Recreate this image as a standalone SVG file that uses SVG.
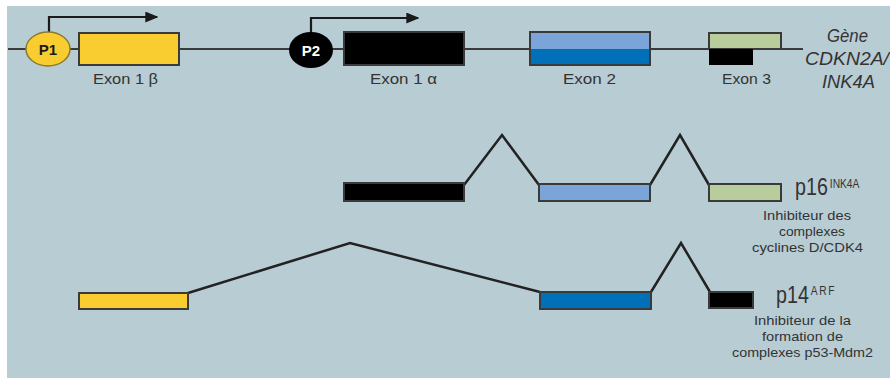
<svg xmlns="http://www.w3.org/2000/svg" width="890" height="379" viewBox="0 0 890 379">
  <defs>
    <marker id="arrow" viewBox="0 0 10 10" refX="9" refY="5" markerWidth="13" markerHeight="11" markerUnits="userSpaceOnUse" orient="auto" preserveAspectRatio="none">
      <path d="M0,0 L10,5 L0,10 Z" fill="#1a1a1a"/>
    </marker>
    <style>
      .lbl { font-family: "Liberation Sans", Arial, sans-serif; fill: #333; }
      .exlbl { font-size: 15px; }
      .note { font-size: 13.5px; }
      .prot { font-size: 24px; }
      .sup { font-size: 12.5px; }
      .gene { font-size: 18px; font-style: italic; }
      .ex { stroke: #3a3a3a; stroke-width: 2; }
      .yel { fill: #f9cc2f; }
      .blk { fill: #000; }
      .lblue { fill: #7ba5d8; }
      .dblue { fill: #0070b9; }
      .grn { fill: #b8cc9c; }
      .link { fill: none; stroke: #222; stroke-width: 2.5; stroke-linejoin: miter; }
    </style>
  </defs>

  <!-- panel -->
  <rect x="7" y="6" width="883" height="372" fill="#b8ccd4"/>

  <!-- gene backbone, promoter arrows and splice links -->
  <g id="connectors">
    <line x1="8" y1="49" x2="803" y2="49" stroke="#3a3a3a" stroke-width="2"/>
    <polyline points="49,34 49,17 157,17" fill="none" stroke="#1a1a1a" stroke-width="2.2" marker-end="url(#arrow)"/>
    <polyline points="311,34 311,18 418,18" fill="none" stroke="#1a1a1a" stroke-width="2.2" marker-end="url(#arrow)"/>
    <!-- p16 splicing -->
    <polyline class="link" points="464,185 502,135 539,185"/>
    <polyline class="link" points="650,185 680,135 709,185"/>
    <!-- p14 splicing -->
    <polyline class="link" points="188,293 350,243 540,292"/>
    <polyline class="link" points="651,292 681,243 710,292"/>
  </g>

  <!-- promoters -->
  <g id="P1">
    <ellipse cx="48" cy="49" rx="22" ry="17" fill="#f9cc2f" stroke="#8a7a30" stroke-width="1.5"/>
    <text x="48" y="55" font-family="Liberation Sans, Arial, sans-serif" font-weight="bold" font-size="15" text-anchor="middle" fill="#1a1a1a">P1</text>
  </g>
  <g id="P2">
    <ellipse cx="311" cy="50" rx="22" ry="18" fill="#000"/>
    <text x="311" y="56" font-family="Liberation Sans, Arial, sans-serif" font-weight="bold" font-size="15" text-anchor="middle" fill="#fff">P2</text>
  </g>

  <!-- exons on the gene -->
  <g id="exon1b">
    <rect class="ex yel" x="79" y="33" width="100" height="32"/>
    <text class="lbl exlbl" x="93" y="84" textLength="65" lengthAdjust="spacingAndGlyphs">Exon 1 β</text>
  </g>
  <g id="exon1a">
    <rect class="ex blk" x="344" y="32" width="120" height="33"/>
    <text class="lbl exlbl" x="370" y="84" textLength="67" lengthAdjust="spacingAndGlyphs">Exon 1 α</text>
  </g>
  <g id="exon2">
    <rect class="lblue" x="530" y="32" width="120" height="17"/>
    <rect class="dblue" x="530" y="49" width="120" height="16"/>
    <rect x="530" y="32" width="120" height="33" fill="none" stroke="#3a3a3a" stroke-width="2"/>
    <text class="lbl exlbl" x="563" y="84" textLength="53" lengthAdjust="spacingAndGlyphs">Exon 2</text>
  </g>
  <g id="exon3">
    <rect class="ex grn" x="709" y="33" width="72" height="16"/>
    <rect class="blk" x="709" y="49" width="44" height="16"/>
    <text class="lbl exlbl" x="722" y="84" textLength="49" lengthAdjust="spacingAndGlyphs">Exon 3</text>
  </g>
  <g id="gene-name">
    <text class="lbl gene" x="827" y="42" textLength="41" lengthAdjust="spacingAndGlyphs">Gène</text>
    <text class="lbl gene" x="805" y="65" textLength="84" lengthAdjust="spacingAndGlyphs">CDKN2A/</text>
    <text class="lbl gene" x="822" y="88" textLength="53" lengthAdjust="spacingAndGlyphs">INK4A</text>
  </g>

  <!-- p16INK4A transcript -->
  <g id="p16">
    <rect class="ex blk" x="344" y="183" width="120" height="18"/>
    <rect class="ex lblue" x="539" y="184" width="111" height="17"/>
    <rect class="ex grn" x="709" y="184" width="72" height="17"/>
    <text class="lbl prot" transform="translate(795,195) scale(0.82,1)">p16<tspan class="sup" dx="2.4" dy="-7">INK4A</tspan></text>
    <text class="lbl note" x="763" y="220" textLength="88" lengthAdjust="spacingAndGlyphs">Inhibiteur des</text>
    <text class="lbl note" x="779" y="236" textLength="66" lengthAdjust="spacingAndGlyphs">complexes</text>
    <text class="lbl note" x="752" y="252" textLength="111" lengthAdjust="spacingAndGlyphs">cyclines D/CDK4</text>
  </g>

  <!-- p14ARF transcript -->
  <g id="p14">
    <rect class="ex yel" x="79" y="293" width="109" height="16"/>
    <rect class="ex dblue" x="540" y="292" width="111" height="17"/>
    <rect class="ex blk" x="709" y="292" width="44" height="16"/>
    <text class="lbl prot" transform="translate(776,303) scale(0.82,1)">p14<tspan class="sup" dx="2.4" dy="-8" letter-spacing="2">ARF</tspan></text>
    <text class="lbl note" x="754" y="325" textLength="97" lengthAdjust="spacingAndGlyphs">Inhibiteur de la</text>
    <text class="lbl note" x="762" y="341" textLength="81" lengthAdjust="spacingAndGlyphs">formation de</text>
    <text class="lbl note" x="732" y="357" textLength="141" lengthAdjust="spacingAndGlyphs">complexes p53-Mdm2</text>
  </g>
</svg>
